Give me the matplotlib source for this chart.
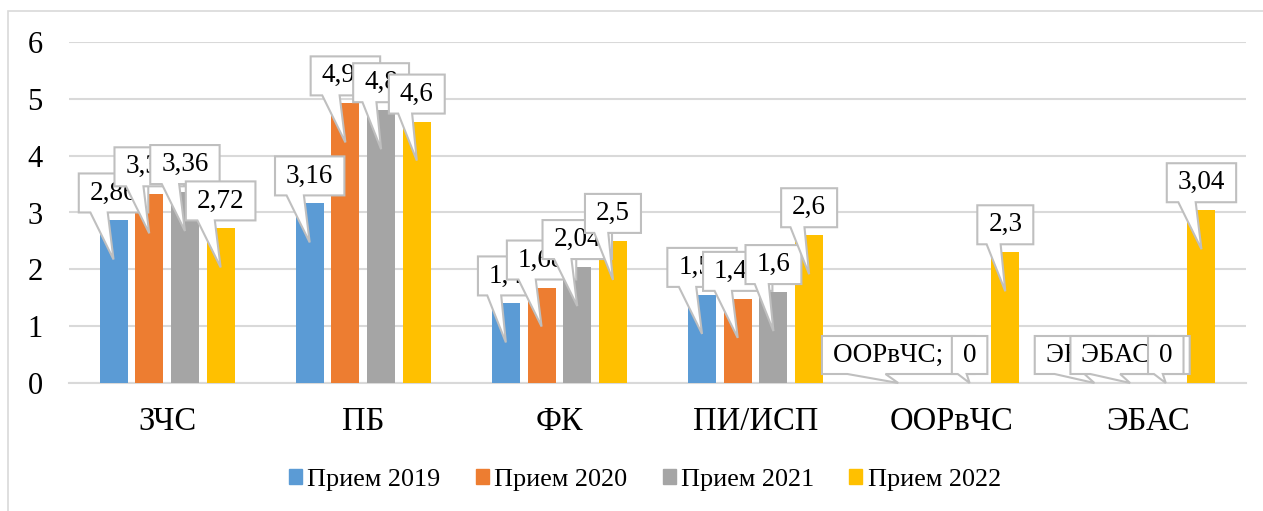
import matplotlib.pyplot as plt
import numpy as np
from matplotlib.patches import Patch, Polygon, Rectangle
from matplotlib.transforms import IdentityTransform

plt.rcParams['font.family'] = ['Liberation Serif', 'DejaVu Serif']

categories = ["ЗЧС", "ПБ", "ФК", "ПИ/ИСП", "ООРвЧС", "ЭБАС"]
series_names = ["Прием 2019", "Прием 2020", "Прием 2021", "Прием 2022"]
p2019 = [2.86, 3.16, 1.4, 1.55, 0, 0]
p2020 = [3.32, 4.92, 1.68, 1.48, 0, 0]
p2021 = [3.36, 4.8, 2.04, 1.6, 0, 0]
p2022 = [2.72, 4.6, 2.5, 2.6, 2.3, 3.04]
colors = ["#5B9BD5", "#ED7D31", "#A5A5A5", "#FFC000"]

# labels that show "category; value" (series, category) and one that is missing
name_labels = [(0, 4), (0, 5), (1, 5)]
hidden_labels = [(1, 4)]

series = [p2019, p2020, p2021, p2022]

W, H = 1263, 511
fig = plt.figure(figsize=(W / 100, H / 100), dpi=100)
ax = fig.add_axes([69 / W, 1 - 383 / H, (1246 - 69) / W, (383 - 42) / H])

x = np.arange(len(categories))
step, bw = 0.182, 0.143
for i, vals in enumerate(series):
    ax.bar(x + (i - 1.5) * step, vals, width=bw, color=colors[i], zorder=3)

ax.set_xlim(-0.5, len(categories) - 0.5)
ax.set_ylim(0, 6)
ax.set_yticks(range(7))
ax.set_xticks(x)
ax.set_xticklabels(categories, fontsize=23.5)
ax.tick_params(axis='y', labelsize=22, length=0, pad=19)
ax.tick_params(axis='x', length=0, pad=17)
ax.grid(axis='y', color="#D9D9D9", linewidth=1.5, zorder=0)
for s in ["top", "right", "left"]:
    ax.spines[s].set_visible(False)
ax.spines["bottom"].set_color("#D9D9D9")
ax.spines["bottom"].set_linewidth(1.5)

# outer chart border
fig.add_artist(Rectangle((8, -20), 1400, H - 11 + 20, transform=IdentityTransform(),
                         fill=False, ec="#D9D9D9", lw=1.2, zorder=0))

handles = [Patch(color=c) for c in colors]
fig.legend(handles, series_names, loc="center", bbox_to_anchor=(645 / W, 1 - 480 / H),
           ncol=4, frameon=False, fontsize=18.8, handlelength=0.5, handleheight=0.5,
           handletextpad=0.2, columnspacing=1.35)

# callout data labels
fig.canvas.draw()
r = fig.canvas.get_renderer()
ident = IdentityTransform()
z = 5
for i, vals in enumerate(series):
    for j, v in enumerate(vals):
        if (i, j) in hidden_labels:
            continue
        s = ("%g" % v).replace(".", ",")
        if (i, j) in name_labels:
            s = categories[j] + "; " + s
        px, py = ax.transData.transform((x[j] + (i - 1.5) * step, v))
        if v == 0:
            bot, tip, bh = py + 9, py, 38
        else:
            bot, tip, bh = py + 8, py - 39, 39
        t = fig.text(px, bot + bh / 2, s, transform=ident, ha="center", va="center",
                     fontsize=19.5, zorder=z + 1)
        tw = t.get_window_extent(renderer=r).width
        w = tw + 22
        left, right, top = px - w / 2, px + w / 2, bot + bh
        verts = [(left, top), (right, top), (right, bot),
                 (left + w * 5 / 12, bot), (px, tip), (left + w * 2 / 12, bot), (left, bot)]
        fig.add_artist(Polygon(verts, closed=True, transform=ident, fc="white",
                               ec="#BFBFBF", lw=1.5, zorder=z))
        z += 2

fig.savefig("out.png", dpi=100)
